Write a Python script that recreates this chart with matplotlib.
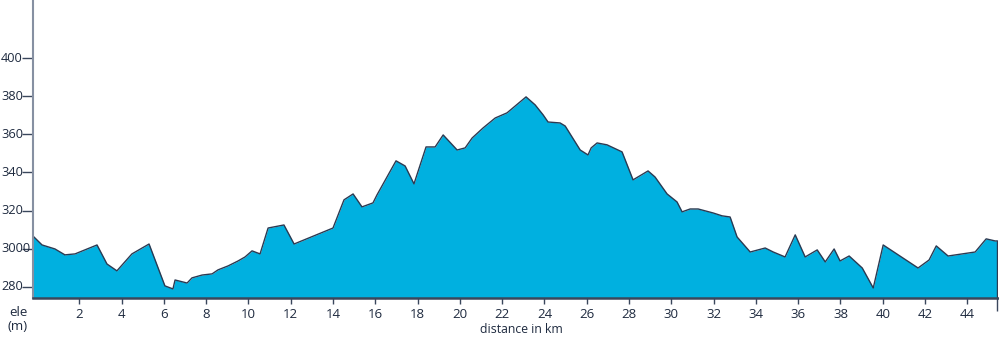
import matplotlib
matplotlib.use("Agg")
import matplotlib.pyplot as plt
import matplotlib.transforms as mtransforms

# --- elevation profile ---
dist_km = [-0.19, 0.24, 0.85, 1.32, 1.80, 2.84, 3.31, 3.78, 4.49, 5.30,
           6.05, 6.43, 6.53, 7.10, 7.33, 7.81, 8.28, 8.56, 9.04, 9.51,
           9.84, 10.17, 10.55, 10.93, 11.68, 12.16, 14.00, 14.52, 14.95, 15.37,
           15.89, 16.08, 16.98, 17.41, 17.83, 18.40, 18.83, 19.21, 19.87, 20.25,
           20.58, 21.10, 21.67, 22.23, 23.13, 23.56, 23.94, 24.17, 24.74, 24.98,
           25.69, 26.06, 26.21, 26.49, 26.96, 27.67, 28.19, 28.90, 29.23, 29.80,
           30.27, 30.51, 30.89, 31.27, 31.98, 32.40, 32.78, 33.11, 33.73, 34.44,
           34.82, 35.38, 35.86, 36.33, 36.90, 37.28, 37.70, 37.98, 38.41, 39.03,
           39.55, 40.02, 41.67, 42.19, 42.53, 43.09, 44.37, 44.89, 45.32, 45.41]
elevation = [306.6, 301.9, 299.8, 296.7, 297.2, 301.9, 291.9, 288.3, 297.2, 302.4,
             280.4, 278.8, 283.5, 281.9, 284.6, 286.1, 286.7, 288.8, 290.9, 293.5,
             295.6, 298.8, 297.2, 310.8, 312.4, 302.4, 310.8, 325.6, 328.7, 321.9,
             324.0, 328.2, 346.1, 343.4, 334.0, 353.4, 353.4, 359.7, 351.8, 352.9,
             358.1, 363.4, 368.6, 371.3, 379.7, 375.5, 370.2, 366.5, 366.0, 364.4,
             351.8, 349.2, 352.9, 355.5, 354.5, 350.8, 336.1, 340.8, 337.6, 328.7,
             324.5, 319.3, 320.8, 320.8, 318.7, 317.2, 316.6, 306.1, 298.2, 300.3,
             298.2, 295.6, 307.2, 295.6, 299.3, 293.0, 299.8, 293.5, 296.1, 289.8,
             279.3, 301.9, 289.8, 294.0, 301.4, 296.1, 298.2, 305.1, 304.0, 304.0]

x_ticks = [2, 4, 6, 8, 10, 12, 14, 16, 18, 20, 22, 24, 26, 28, 30, 32, 34, 36, 38, 40, 42, 44]
y_ticks = [280, 300, 320, 340, 360, 380, 400]
y_tick_labels = ["280", "3000", "320", "340", "360", "380", "400"]

text_color = "#1e2a3f"
fill_color = "#00b0e0"
line_color = "#2b3a52"

plt.rcParams["font.family"] = ["Open Sans", "DejaVu Sans"]

fig = plt.figure(figsize=(9.99, 3.44), dpi=100)
ax = fig.add_axes([0.033, 0.133, 0.966, 0.867])

y_bottom = 273.9
ax.fill_between(dist_km, elevation, y_bottom, color=fill_color, linewidth=0)
ax.plot(dist_km, elevation, color=line_color, linewidth=1.0)
ax.plot([dist_km[-1], dist_km[-1]], [elevation[-1], y_bottom], color=line_color, linewidth=1.0)

ax.set_xlim(dist_km[0], 45.45)
ax.set_ylim(y_bottom, 430.6)

ax.set_xticks(x_ticks)
ax.set_xticks([dist_km[-1]], minor=True)
ax.set_yticks(y_ticks)
ax.set_yticklabels([])

# y labels sit flush with the left edge of the picture
trans = mtransforms.blended_transform_factory(fig.transFigure, ax.transData)
for val, lab in zip(y_ticks, y_tick_labels):
    fig.text(0.001, val, lab, transform=trans, ha="left", va="center",
             fontsize=9.2, color=text_color)

for side in ["top", "right"]:
    ax.spines[side].set_visible(False)
ax.spines["left"].set_color("#8690a2")
ax.spines["left"].set_linewidth(1.5)
ax.spines["bottom"].set_color("#3a475c")
ax.spines["bottom"].set_linewidth(1.8)

ax.tick_params(axis="y", direction="out", length=8, width=1, color="#3a475c")
ax.tick_params(axis="x", which="major", direction="out", length=4, width=1, color="#3a475c",
               labelsize=9.5, labelcolor=text_color, pad=3)
ax.tick_params(axis="x", which="minor", direction="out", length=9, width=1, color="#3a475c")

ax.set_xlabel("distance in km", fontsize=8.8, color=text_color)
ax.xaxis.set_label_coords(0.506, -0.082)
fig.text(0.018, 0.072, "ele\n(m)", ha="center", va="center", fontsize=9.5,
         color=text_color, linespacing=1.1)

fig.savefig("out.png", dpi=100)
